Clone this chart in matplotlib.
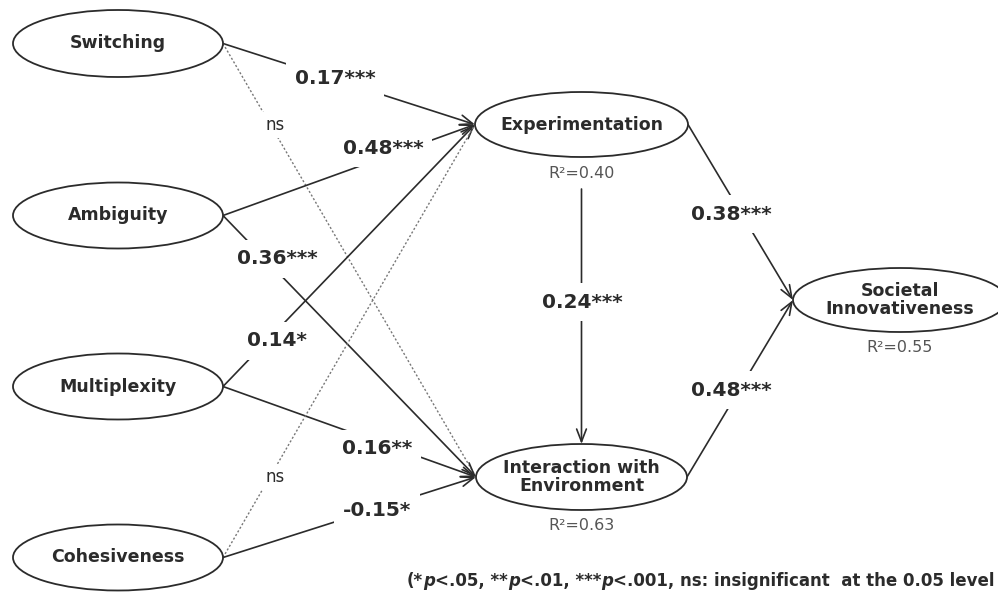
import matplotlib.pyplot as plt
from matplotlib.patches import Ellipse, FancyArrowPatch

plt.rcParams['font.family'] = ['DejaVu Sans']

# construct names
nodes = ['Switching', 'Ambiguity', 'Multiplexity', 'Cohesiveness',
         'Experimentation', 'Interaction with\nEnvironment', 'Societal\nInnovativeness']
r2_nodes = ['Experimentation', 'Interaction with\nEnvironment', 'Societal\nInnovativeness']
r2_values = [0.40, 0.63, 0.55]

# structural paths: source, target, coefficient, stars (None = not significant)
path_src = ['Switching', 'Switching', 'Ambiguity', 'Ambiguity', 'Multiplexity', 'Multiplexity',
            'Cohesiveness', 'Cohesiveness', 'Experimentation', 'Experimentation',
            'Interaction with\nEnvironment']
path_dst = ['Experimentation', 'Interaction with\nEnvironment', 'Experimentation',
            'Interaction with\nEnvironment', 'Experimentation', 'Interaction with\nEnvironment',
            'Experimentation', 'Interaction with\nEnvironment', 'Interaction with\nEnvironment',
            'Societal\nInnovativeness', 'Societal\nInnovativeness']
path_coef = [0.17, None, 0.48, 0.36, 0.14, 0.16, None, -0.15, 0.24, 0.38, 0.48]
path_stars = ['***', None, '***', '***', '*', '**', None, '*', '***', '***', '***']

# layout (pixel space, y down)
node_xy = {
    'Switching': (118, 43.5), 'Ambiguity': (118, 215.5),
    'Multiplexity': (118, 386.5), 'Cohesiveness': (118, 557.5),
    'Experimentation': (581.5, 124.5),
    'Interaction with\nEnvironment': (581.5, 477),
    'Societal\nInnovativeness': (900, 300),
}
node_size = {
    'Switching': (210, 67), 'Ambiguity': (210, 66), 'Multiplexity': (210, 66),
    'Cohesiveness': (210, 66), 'Experimentation': (213, 65),
    'Interaction with\nEnvironment': (211, 66), 'Societal\nInnovativeness': (214, 64),
}
label_xy = [(335, 79), (275, 125), (383, 148), (277, 259), (277, 341), (377, 449),
            (275, 477), (377, 511), (582, 302), (731, 214), (731, 390)]

ink = '#2b2b2b'

fig = plt.figure(figsize=(9.98, 6.01), dpi=100)
ax = fig.add_axes([0, 0, 1, 1])
ax.set_xlim(0, 998)
ax.set_ylim(601, 0)
ax.axis('off')

for n in nodes:
    (cx, cy), (w, h) = node_xy[n], node_size[n]
    ax.add_patch(Ellipse((cx, cy), w, h, facecolor='white', edgecolor=ink, lw=1.3, zorder=3))
    ax.text(cx, cy, n, ha='center', va='center', fontsize=12.5, fontweight='bold',
            color=ink, linespacing=1.0, zorder=4)

for n, r in zip(r2_nodes, r2_values):
    cx, cy = node_xy[n]
    ax.text(cx, cy + node_size[n][1] / 2 + 16, f'R²={r:.2f}', ha='center', va='center',
            fontsize=11.5, color='#555555', zorder=4)

for i, (s, d) in enumerate(zip(path_src, path_dst)):
    (sx, sy), (sw, sh) = node_xy[s], node_size[s]
    (dx, dy), (dw, dh) = node_xy[d], node_size[d]
    if abs(sx - dx) < 1:  # vertical path below the R² label
        p0, p1 = (sx, sy + sh / 2 + 32), (dx, dy - dh / 2)
    else:
        p0, p1 = (sx + sw / 2, sy), (dx - dw / 2, dy)
    if path_coef[i] is None:
        ax.plot([p0[0], p1[0]], [p0[1], p1[1]], color='#777777', lw=1.0,
                linestyle=(0, (1.5, 1.5)), zorder=1)
        ax.text(*label_xy[i], 'ns', ha='center', va='center', fontsize=12, color=ink,
                zorder=2, bbox=dict(boxstyle='square,pad=0.25', fc='white', ec='none'))
    else:
        ax.add_patch(FancyArrowPatch(p0, p1, arrowstyle='->,head_length=0.65,head_width=0.25',
                                     mutation_scale=14, color=ink, lw=1.2,
                                     shrinkA=0, shrinkB=0, zorder=1))
        ax.text(*label_xy[i], f'{path_coef[i]:.2f}{path_stars[i]}', ha='center', va='center',
                fontsize=14.5, fontweight='bold', color=ink, zorder=2,
                bbox=dict(boxstyle='square,pad=0.45', fc='white', ec='none'))

# footnote with italic p
parts = ['(*', 'p', '<.05, **', 'p', '<.01, ***', 'p', '<.001, ns: insignificant  at the 0.05 level']
prev = ax.text(407, 590, parts[0], ha='left', va='bottom', fontsize=12,
               fontweight='bold', color=ink)
for k, t in enumerate(parts[1:]):
    prev = ax.annotate(t, xy=(1, 0), xycoords=prev, ha='left', va='bottom', fontsize=12,
                       fontweight='bold', fontstyle='italic' if t == 'p' else 'normal',
                       color=ink)

fig.savefig('out.png', dpi=100)
